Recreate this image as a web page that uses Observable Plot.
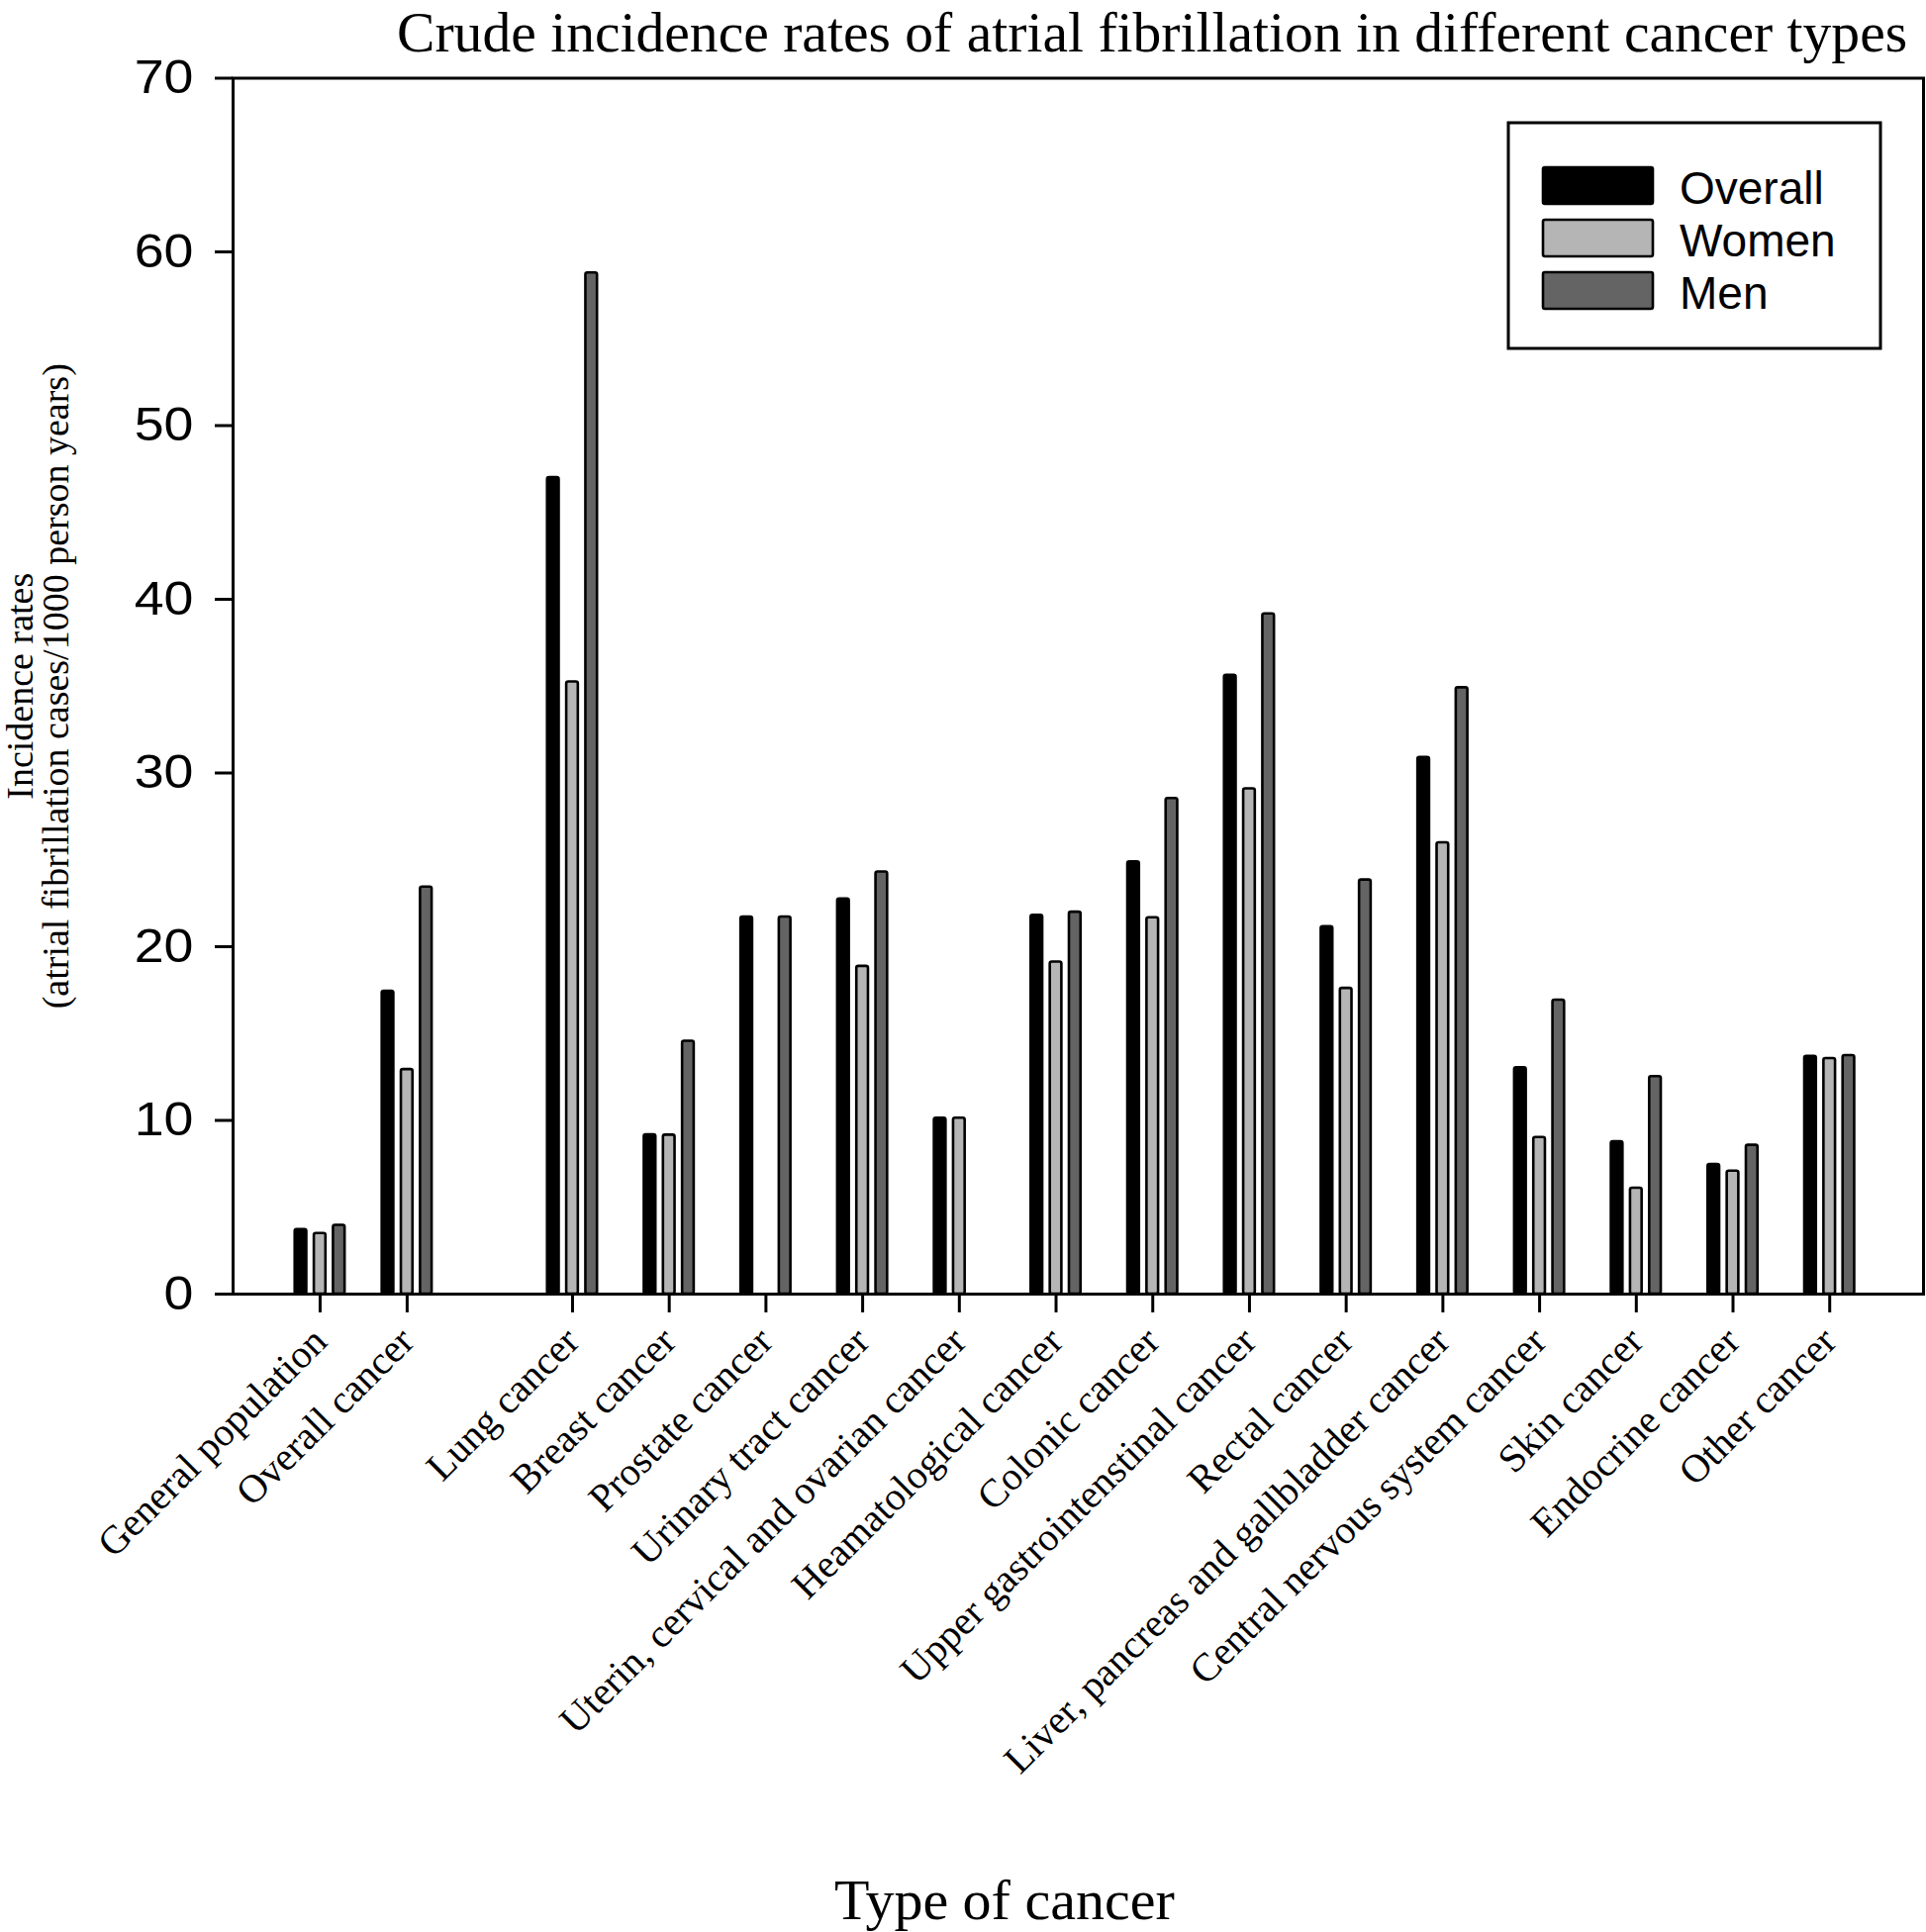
<!DOCTYPE html>
<html>
<head>
<meta charset="utf-8">
<script src="https://cdn.jsdelivr.net/npm/d3@7"></script>
<script src="https://cdn.jsdelivr.net/npm/@observablehq/plot@0.6"></script>
<style>
  html, body { margin: 0; padding: 0; background: #fff; }
  #wrap { width: 1946px; height: 1952px; overflow: hidden; background: #fff; }
  #title { height: 62px; line-height: normal; font-family: "Liberation Serif", "Times New Roman", serif; font-size: 57.6px; white-space: nowrap; padding-left: 401px; color: #000; overflow: visible; }
  #caption { height: 72px; line-height: 72px; font-family: "Liberation Serif", "Times New Roman", serif; font-size: 58px; white-space: nowrap; padding-left: 843px; color: #000; }
  #caption span { position: relative; top: 4px; }
  svg { display: block; }
</style>
</head>
<body>
<div id="wrap">
  <div id="title">Crude incidence rates of atrial fibrillation in different cancer types</div>
  <div id="chart"></div>
  <div id="caption"><span>Type of cancer</span></div>
</div>
<script>
// ---- data ----
const categories = [
  "General population", "Overall cancer", "Lung cancer", "Breast cancer",
  "Prostate cancer", "Urinary tract cancer", "Uterin, cervical and ovarian cancer",
  "Heamatological cancer", "Colonic cancer", "Upper gastrointenstinal cancer",
  "Rectal cancer", "Liver, pancreas and gallbladder cancer",
  "Central nervous system cancer", "Skin cancer", "Endocrine cancer", "Other cancer"
];
// category slot along the x axis (the first two groups sit apart from the rest)
const slot = [-2.61, -1.71, 0, 1, 2, 3, 4, 5, 6, 7, 8, 9, 10, 11, 12, 13];
const overallValues = [3.72, 17.43, 47.0, 9.17, 21.71, 22.74, 10.13, 21.8, 24.89, 35.63, 21.15, 30.9, 13.03, 8.77, 7.46, 13.69];
const womenValues   = [3.49, 12.93, 35.24, 9.15, null, 18.87, 10.13, 19.12, 21.67, 29.09, 17.6, 25.98, 9.02, 6.1, 7.08, 13.56];
const menValues     = [3.96, 23.43, 58.79, 14.56, 21.71, 24.3, null, 21.99, 28.53, 39.16, 23.84, 34.91, 16.92, 12.52, 8.57, 13.73];
const seriesNames = ["Overall", "Women", "Men"];
const seriesColors = ["#000000", "#b5b5b5", "#646464"];
const yTicks = [0, 10, 20, 30, 40, 50, 60, 70];
const yTitle = "Incidence rates\n(atrial fibrillation cases/1000 person years)";

// ---- table ----
const seriesValues = [overallValues, womenValues, menValues];
const rows = [];
categories.forEach((c, i) => {
  seriesNames.forEach((s, k) => {
    const v = seriesValues[k][i];
    if (v != null) rows.push({category: c, slot: slot[i], series: s, k, value: v});
  });
});

const barOffset = 0.198;  // slot units between bars of a group
const barHalf = 0.06;     // half bar width in slot units
const serif = "Liberation Serif, Times New Roman, serif";
const sans = "Liberation Sans, Arial, sans-serif";

const W = 1946, H = 1818;
const mTop = 16.5, mLeft = 235, mRight = 3, mBottom = H - (1307 - 62);

const chart = Plot.plot({
  width: W,
  height: H,
  marginTop: mTop,
  marginLeft: mLeft,
  marginRight: mRight,
  marginBottom: mBottom,
  style: {background: "#fff", color: "#000", overflow: "visible"},
  x: {type: "linear", domain: [-3.51, 13.97]},
  y: {domain: [0, 70]},
  color: {domain: seriesNames, range: seriesColors},
  marks: [
    Plot.rectY(rows, {
      x1: d => d.slot + (d.k - 1) * barOffset - barHalf,
      x2: d => d.slot + (d.k - 1) * barOffset + barHalf,
      y1: 0,
      y2: "value",
      fill: "series",
      stroke: "#000",
      strokeWidth: 2.6,
      rx: 2
    }),
    Plot.axisY({
      className: "yaxis",
      ticks: yTicks,
      tickSize: 18,
      tickPadding: 22,
      strokeWidth: 3,
      fontSize: 48,
      fontFamily: sans,
      label: null
    }),
    Plot.axisX({
      ticks: slot,
      tickSize: 19,
      tickPadding: 22,
      strokeWidth: 3,
      tickRotate: -45,
      fontSize: 40,
      fontFamily: serif,
      tickFormat: v => categories[slot.indexOf(v)],
      label: null
    }),
    Plot.frame({stroke: "#000", strokeWidth: 3}),
    Plot.text([yTitle], {
      frameAnchor: "left",
      rotate: -90,
      dx: -196.5,
      textAnchor: "middle",
      lineAnchor: "middle",
      lineHeight: 0.95,
      fontSize: 38,
      fontFamily: serif,
      fill: "#000"
    })
  ]
});

document.getElementById("chart").appendChild(chart);

const svg = d3.select(chart);
// the reference's y tick numerals are a little wider than the font's own
svg.selectAll("g.yaxis text").attr("transform", function() {
  const t = d3.select(this).attr("transform") || "";
  return t + " scale(1.12,1)";
});

// ---- legend inside the frame (top right) ----
const frameRight = W - mRight;
const lg = svg.append("g").attr("class", "legend").attr("text-anchor", "start");
lg.append("rect")
  .attr("x", frameRight - 419).attr("y", 62)
  .attr("width", 376).attr("height", 228)
  .attr("fill", "#fff").attr("stroke", "#000").attr("stroke-width", 3);
seriesNames.forEach((s, k) => {
  const top = 107 + k * 53;
  lg.append("rect")
    .attr("x", frameRight - 384).attr("y", top)
    .attr("width", 111).attr("height", 37)
    .attr("rx", 2)
    .attr("fill", seriesColors[k]).attr("stroke", "#000").attr("stroke-width", 2.6);
  lg.append("text")
    .attr("x", frameRight - 246).attr("y", top + 37)
    .attr("text-anchor", "start")
    .attr("font-family", sans).attr("font-size", 46)
    .attr("fill", "#000")
    .text(s);
});
</script>
</body>
</html>
